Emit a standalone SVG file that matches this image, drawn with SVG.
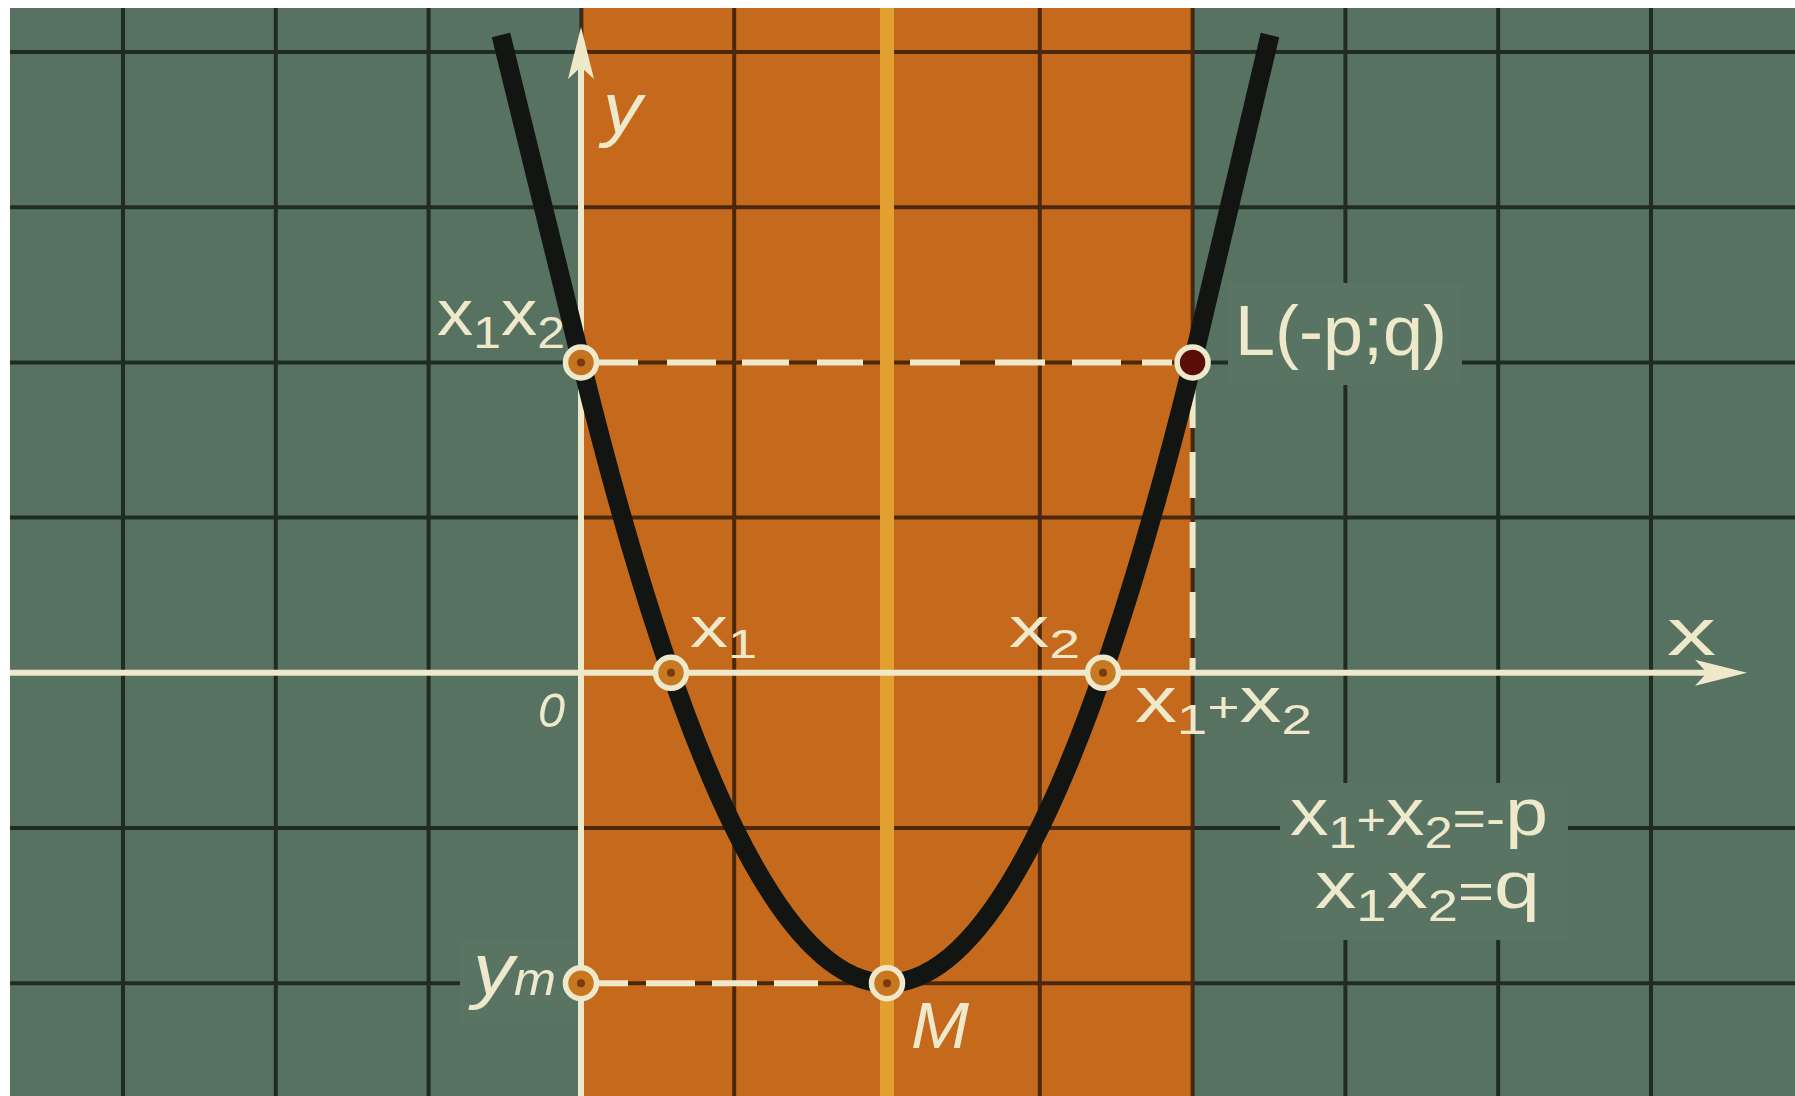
<svg xmlns="http://www.w3.org/2000/svg" width="1795" height="1096" viewBox="0 0 1795 1096">
<style>
.grid{stroke:#000;stroke-opacity:0.62;stroke-width:4;fill:none}
.axis{stroke:#efe9cc;stroke-width:6;fill:none}
.dash{stroke:#efe9cc;stroke-width:6;fill:none}
.pt{stroke:#efe9cc;stroke-width:5.5}
.dot{fill:#7a3a0c}
.lbl{fill:#efe9cc;font-family:"Liberation Sans","DejaVu Sans",sans-serif}
.it{font-style:italic}
.patch{fill:#5a7464}
.curve{fill:none;stroke:#121512;stroke-width:19;stroke-linejoin:round}
</style>
<defs>
<marker id="arrow" markerUnits="userSpaceOnUse" orient="auto" refX="0" refY="0" markerWidth="60" markerHeight="30" viewBox="-20 -15 60 30" overflow="visible">
<path d="M35,0 L-17,-13 L-5,0 L-17,13 Z" fill="#efe9cc"/>
</marker>
</defs>
<g id="background">
<rect width="1795" height="1096" fill="#ffffff"/>
<rect x="10" y="8" width="1785" height="1088" fill="#587262"/>
<rect x="581" y="8" width="613" height="1088" fill="#c56a1d"/>
</g>
<g id="grid">
<path class="grid" d="M123 8V1096M275.8 8V1096M428.6 8V1096M581.4 8V1096M734.2 8V1096M1039.8 8V1096M1192.6 8V1096M1345.4 8V1096M1498.2 8V1096M1651 8V1096M10 52H1795M10 207.2H1795M10 362.4H1795M10 517.6H1795M10 828H1795M10 983.2H1795"/>
</g>
<g id="label-patches">
<rect class="patch" x="1228" y="283" width="234" height="102"/>
<rect class="patch" x="1280" y="783" width="288" height="157"/>
<rect class="patch" x="460" y="940" width="117" height="85"/>
</g>
<rect id="symmetry-axis" x="880" y="8" width="14" height="1088" fill="#e2a02e"/>
<g id="connectors">
<line id="x-axis" class="axis" x1="10" y1="672.8" x2="1712" y2="672.8" marker-end="url(#arrow)"/>
<line id="y-axis" class="axis" x1="581" y1="1096" x2="581" y2="62" marker-end="url(#arrow)"/>
<path id="dash-q" class="dash" d="M597 362.4H638M667 362.4H716M742 362.4H789M817 362.4H863M910 362.4H960M995 362.4H1045M1072 362.4H1121M1142 362.4H1172"/>
<path id="dash-p" class="dash" d="M1192.6 384V428M1192.6 452V498M1192.6 522V568M1192.6 592V638M1192.6 658V670"/>
<path id="dash-ym" class="dash" d="M598 983.2H628M646 983.2H695M712 983.2H757M774 983.2H818"/>
<path id="parabola" class="curve" d="M501 35L581.4 362.4Q887 1604 1192.6 362.4L1270 35"/>
</g>
<g id="label-y">
<text class="lbl it" x="603" y="133" font-size="72" textLength="39" lengthAdjust="spacingAndGlyphs">y</text>
</g>
<g id="label-x">
<text class="lbl" x="1667" y="655" font-size="67" textLength="49" lengthAdjust="spacingAndGlyphs">x</text>
</g>
<g id="label-origin">
<text class="lbl it" x="538" y="727" font-size="49" textLength="27" lengthAdjust="spacingAndGlyphs">0</text>
</g>
<g id="node-q">
<circle class="pt" cx="581" cy="362.4" r="15.5" fill="#c47420"/>
<circle class="dot" cx="581" cy="362.4" r="4"/>
<text class="lbl" x="437" y="335" font-size="64" textLength="128" lengthAdjust="spacingAndGlyphs">x<tspan font-size="44" dy="13">1</tspan><tspan dy="-13">x</tspan><tspan font-size="44" dy="13">2</tspan></text>
</g>
<g id="node-L">
<circle class="pt" cx="1192.6" cy="362.4" r="15.5" fill="#5a0e08"/>
<text class="lbl" x="1235" y="355" font-size="70" textLength="212" lengthAdjust="spacingAndGlyphs">L(-p;q)</text>
</g>
<g id="node-x1">
<circle class="pt" cx="671" cy="672.8" r="15.5" fill="#c77a24"/>
<circle class="dot" cx="671" cy="672.8" r="4"/>
<text class="lbl" x="690" y="647" font-size="58" textLength="67" lengthAdjust="spacingAndGlyphs">x<tspan font-size="40" dy="11">1</tspan></text>
</g>
<g id="node-x2">
<circle class="pt" cx="1103" cy="672.8" r="15.5" fill="#c77a24"/>
<circle class="dot" cx="1103" cy="672.8" r="4"/>
<text class="lbl" x="1009" y="647" font-size="58" textLength="71" lengthAdjust="spacingAndGlyphs">x<tspan font-size="40" dy="11">2</tspan></text>
</g>
<g id="label-sum">
<text class="lbl" x="1135" y="722" font-size="64" textLength="177" lengthAdjust="spacingAndGlyphs">x<tspan font-size="42" dy="12">1</tspan><tspan font-size="42" dy="-12">+</tspan>x<tspan font-size="42" dy="12">2</tspan></text>
</g>
<g id="node-ym">
<circle class="pt" cx="581" cy="983.2" r="15.5" fill="#c8761f"/>
<circle class="dot" cx="581" cy="983.2" r="4"/>
<text class="lbl it" x="473" y="995" font-size="75" textLength="83" lengthAdjust="spacingAndGlyphs">y<tspan font-size="46">m</tspan></text>
</g>
<g id="node-M">
<circle class="pt" cx="887" cy="983.2" r="15.5" fill="#c8761f"/>
<circle class="dot" cx="887" cy="983.2" r="4"/>
<text class="lbl it" x="911" y="1048" font-size="64" textLength="58" lengthAdjust="spacingAndGlyphs">M</text>
</g>
<g id="equations">
<text class="lbl" x="1290" y="835" font-size="67" textLength="258" lengthAdjust="spacingAndGlyphs">x<tspan font-size="44" dy="13">1</tspan><tspan font-size="44" dy="-13">+</tspan>x<tspan font-size="44" dy="13">2</tspan><tspan font-size="50" dy="-13">=-</tspan>p</text>
<text class="lbl" x="1315" y="908" font-size="67" textLength="225" lengthAdjust="spacingAndGlyphs">x<tspan font-size="44" dy="13">1</tspan><tspan dy="-13">x</tspan><tspan font-size="44" dy="13">2</tspan><tspan font-size="50" dy="-13">=</tspan>q</text>
</g>
</svg>
